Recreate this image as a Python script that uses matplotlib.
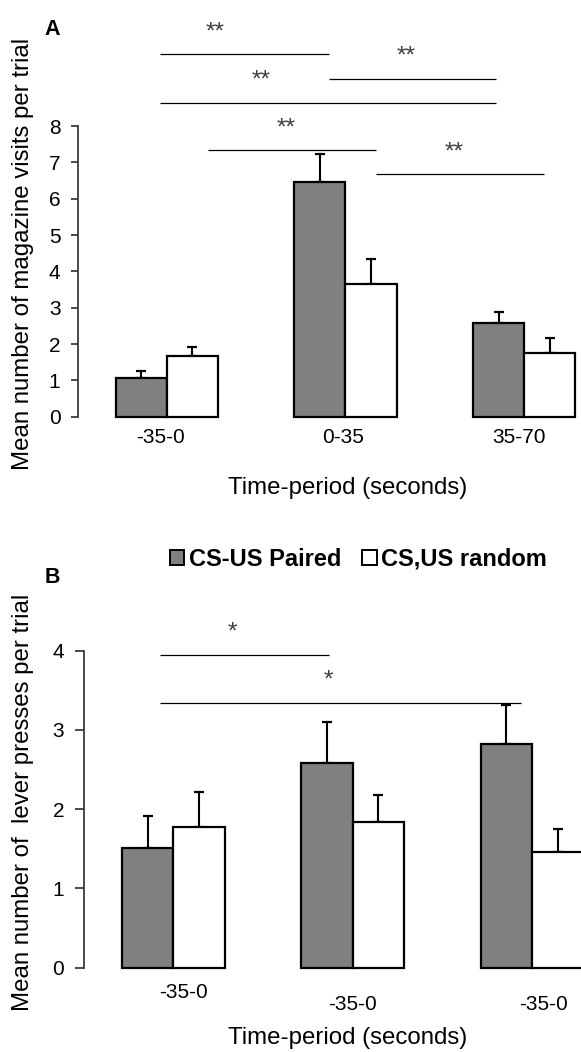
import matplotlib
matplotlib.use("Agg")
import matplotlib.pyplot as plt
import matplotlib.transforms as mtransforms
from matplotlib.patches import Patch
import numpy as np

plt.rcParams['font.family'] = ['Liberation Sans', 'DejaVu Sans']

# ---- data -------------------------------------------------------------
series_names = ["CS-US Paired", "CS,US random"]

periods_a = ["-35-0", "0-35", "35-70"]
paired_a = [1.06, 6.46, 2.57]
paired_a_err = [0.20, 0.76, 0.31]
random_a = [1.68, 3.65, 1.75]
random_a_err = [0.25, 0.68, 0.42]

periods_b = ["-35-0", "-35-0", "-35-0"]
paired_b = [1.51, 2.58, 2.82]
paired_b_err = [0.41, 0.52, 0.49]
random_b = [1.77, 1.84, 1.46]
random_b_err = [0.45, 0.34, 0.29]

# significance brackets: start, end, level, position of the marker, marker
sig_a_start = [-0.04, 0.91, -0.04, 0.23, 1.17]
sig_a_end = [0.91, 1.84, 1.84, 1.17, 2.11]
sig_a_level = [9.98, 9.30, 8.64, 7.33, 6.67]
sig_a_mark_x = [0.27, 1.34, 0.53, 0.67, 1.61]
sig_a_marks = ["**", "**", "**", "**", "**"]

sig_b_start = [-0.075, -0.075]
sig_b_end = [0.866, 1.937]
sig_b_level = [3.946, 3.345]
sig_b_mark_x = [0.331, 0.864]
sig_b_marks = ["*", "*"]

# ---- figure -----------------------------------------------------------
W, H = 581, 1052
fig = plt.figure(figsize=(W / 100, H / 100), dpi=100)

PAIRED = "#808080"
AXIS = "#3c3c3c"
BAR_W = 0.286


def px_axes(left, right, bottom, top):
    return fig.add_axes([left / W, 1 - bottom / H, (right - left) / W, (bottom - top) / H])


def draw_bars(ax, p, pe, r, re):
    x = np.arange(len(p))
    zeros = np.zeros(len(p))
    ax.bar(x - BAR_W / 2, p, BAR_W, color=PAIRED, edgecolor="black",
           linewidth=1.6, clip_on=False, zorder=3)
    ax.bar(x + BAR_W / 2, r, BAR_W, color="white", edgecolor="black",
           linewidth=1.6, clip_on=False, zorder=3)
    for xs, v, e in ((x - BAR_W / 2, p, pe), (x + BAR_W / 2, r, re)):
        ax.errorbar(xs, v, yerr=[zeros, e], fmt="none", ecolor="black",
                    elinewidth=1.5, capsize=3.6, capthick=1.6, zorder=2,
                    clip_on=False)


def draw_sig(ax, starts, ends, levels, mark_x, marks):
    for s, e, lv, mx, m in zip(starts, ends, levels, mark_x, marks):
        ax.plot([s, e], [lv, lv], color="black", lw=0.9, clip_on=False,
                solid_capstyle="butt")
        ax.annotate(m, xy=(mx, lv), xytext=(0, 11.5), textcoords="offset points",
                    ha="center", va="baseline", fontsize=17.5, color="#404040",
                    annotation_clip=False)


def style_axes(ax, ticklen):
    for side in ("top", "right", "bottom"):
        ax.spines[side].set_visible(False)
    ax.spines["left"].set_color(AXIS)
    ax.spines["left"].set_linewidth(1.3)
    ax.tick_params(axis="y", direction="out", length=ticklen, width=1.3,
                   color=AXIS, labelsize=15, pad=7.5)
    ax.tick_params(axis="x", length=0, labelsize=15, pad=8)


def shift_ticklabels(ax, offsets):
    for lab, (dx, dy) in zip(ax.get_xticklabels(), offsets):
        lab.set_transform(lab.get_transform() +
                          mtransforms.ScaledTranslation(dx / 100, -dy / 100,
                                                        fig.dpi_scale_trans))


# ---- panel A ----------------------------------------------------------
axA = px_axes(77.8, 581, 416.7, 126.0)
axA.set_xlim(-0.497, -0.497 + (581 - 77.8) / 178.8)
axA.set_ylim(0, 8)
draw_bars(axA, paired_a, paired_a_err, random_a, random_a_err)
axA.set_xticks(np.arange(len(periods_a)), periods_a)
axA.set_yticks(np.arange(0, 9, 1))
style_axes(axA, 5)
shift_ticklabels(axA, [(-6, 0), (-2, 0), (-5, 0)])
draw_sig(axA, sig_a_start, sig_a_end, sig_a_level, sig_a_mark_x, sig_a_marks)
axA.set_ylabel("Mean number of magazine visits per trial", fontsize=17.3)
axA.yaxis.label.set_va("center")
axA.yaxis.set_label_coords((23 - 77.8) / (581 - 77.8), (416.7 - 254) / 290.7)
axA.set_xlabel("Time-period (seconds)", fontsize=17.3)
axA.xaxis.label.set_va("center")
axA.xaxis.set_label_coords((348 - 77.8) / (581 - 77.8), (416.7 - 488) / 290.7)

# ---- panel B ----------------------------------------------------------
axB = px_axes(83.5, 600, 967.7, 650.7)
axB.set_xlim(-0.501, -0.501 + (600 - 83.5) / 179.3)
axB.set_ylim(0, 4)
draw_bars(axB, paired_b, paired_b_err, random_b, random_b_err)
axB.set_xticks(np.arange(len(periods_b)), periods_b)
axB.set_yticks(np.arange(0, 5, 1))
style_axes(axB, 6.5)
shift_ticklabels(axB, [(10, 4), (0, 16), (12, 16)])
draw_sig(axB, sig_b_start, sig_b_end, sig_b_level, sig_b_mark_x, sig_b_marks)
axB.set_ylabel("Mean number of  lever presses per trial", fontsize=17.3)
axB.yaxis.label.set_va("center")
axB.yaxis.set_label_coords((23 - 83.5) / (600 - 83.5), (967.7 - 802.5) / 317.0)
axB.set_xlabel("Time-period (seconds)", fontsize=17.3)
axB.xaxis.label.set_va("center")
axB.xaxis.set_label_coords((348 - 83.5) / (600 - 83.5), (967.7 - 1038) / 317.0)

# ---- panel letters and legend -----------------------------------------
fig.text(52.5 / W, 1 - 35 / H, "A", fontsize=15.5, fontweight="bold",
         ha="center", va="baseline")
fig.text(52 / W, 1 - 583.3 / H, "B", fontsize=15.5, fontweight="bold",
         ha="center", va="baseline")

handles = [Patch(facecolor=PAIRED, edgecolor="black", linewidth=1.4),
           Patch(facecolor="white", edgecolor="black", linewidth=1.4)]
fig.legend(handles, series_names, loc="center", ncol=2, frameon=False,
           bbox_to_anchor=(358.5 / W, 1 - 559.3 / H),
           prop=dict(weight="bold", size=17),
           handlelength=0.6, handleheight=0.6, handletextpad=0.2,
           columnspacing=0.9, borderpad=0, borderaxespad=0)

fig.savefig("out.png", dpi=100)
